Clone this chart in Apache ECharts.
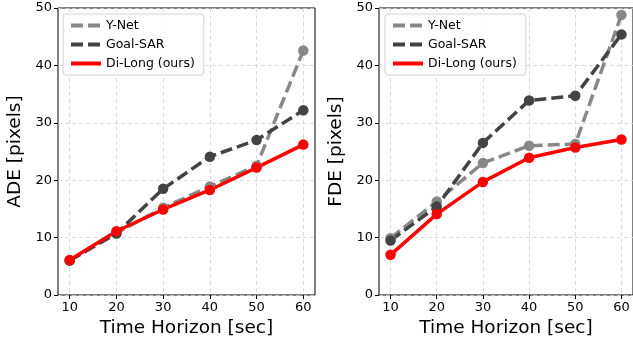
<!DOCTYPE html>
<html><head><meta charset="utf-8">
<script src="https://cdn.jsdelivr.net/npm/echarts@6/dist/echarts.min.js"></script>
<style>html,body{margin:0;padding:0;background:#fff}#c{width:633px;height:343px}</style>
</head><body><div id="c"></div>
<script>
const horizons = [10, 20, 30, 40, 50, 60];
const adeYNet = [6.0, 10.8, 15.2, 18.9, 22.5, 42.6];
const adeGoalSAR = [6.0, 10.7, 18.5, 24.1, 27.0, 32.2];
const adeDiLong = [6.1, 11.1, 14.9, 18.3, 22.2, 26.2];
const fdeYNet = [9.9, 16.3, 23.0, 26.0, 26.3, 48.8];
const fdeGoalSAR = [9.5, 15.4, 26.5, 33.9, 34.7, 45.4];
const fdeDiLong = [7.0, 14.1, 19.7, 23.9, 25.7, 27.1];
const yTicks = [0, 10, 20, 30, 40, 50];
const names = ['Y-Net', 'Goal-SAR', 'Di-Long (ours)'];

const FONT = 'DejaVu Sans';
const styles = {
  'Y-Net': {color: '#878787', type: [12, 5]},
  'Goal-SAR': {color: '#434343', type: [12, 5]},
  'Di-Long (ours)': {color: '#ff0000', type: 'solid'}
};
function pts(vals) { return horizons.map((h, i) => [h, vals[i]]); }
function mkSeries(name, vals, idx) {
  const s = styles[name];
  return {
    name: name, type: 'line', xAxisIndex: idx, yAxisIndex: idx,
    data: pts(vals), symbol: 'circle', symbolSize: 10.5, showSymbol: true,
    lineStyle: {color: s.color, width: 3.5, type: s.type},
    itemStyle: {color: s.color},
    emphasis: {disabled: true}, animation: false
  };
}
function xAx(idx) {
  return {
    type: 'value', gridIndex: idx, min: 7.5, max: 62.5,
    name: 'Time Horizon [sec]', nameLocation: 'middle', nameGap: 24,
    nameTextStyle: {fontFamily: FONT, fontSize: 18.5, color: '#000'},
    axisLine: {show: false},
    axisTick: {show: true, length: 4, customValues: horizons, lineStyle: {color: '#000'}},
    axisLabel: {customValues: horizons, fontFamily: FONT, fontSize: 13, color: '#000', margin: 6},
    splitLine: {show: true, lineStyle: {color: '#d0d0d0', type: [4, 3], width: 0.8}}
  };
}
function yAx(idx, label) {
  return {
    type: 'value', gridIndex: idx, min: 0, max: 50, interval: 10,
    name: label, nameLocation: 'middle', nameGap: 33,
    nameTextStyle: {fontFamily: FONT, fontSize: 18.5, color: '#000'},
    axisLine: {show: false},
    axisTick: {show: true, length: 4, lineStyle: {color: '#000'}},
    axisLabel: {fontFamily: FONT, fontSize: 13, color: '#000', margin: 6},
    splitLine: {show: true, lineStyle: {color: '#d0d0d0', type: [4, 3], width: 0.8}}
  };
}
function legend(left) {
  return {
    left: left, top: 14, orient: 'vertical', data: names,
    itemWidth: 30, itemHeight: 14, itemGap: 6,
    padding: [5, 9, 5, 6],
    backgroundColor: 'rgba(255,255,255,0.85)', borderColor: '#d0d0d0', borderWidth: 1, borderRadius: 3,
    textStyle: {fontFamily: FONT, fontSize: 12.5, color: '#000'},
    itemStyle: {opacity: 0},
    lineStyle: {width: 4},
    selectedMode: false
  };
}
const chart = echarts.init(document.getElementById('c'), null, {renderer: 'canvas'});
chart.setOption({
  animation: false,
  backgroundColor: '#fff',
  grid: [
    {left: 58, top: 8, width: 257, height: 287, show: true, borderColor: '#000', borderWidth: 1, backgroundColor: 'transparent', containLabel: false},
    {left: 379, top: 8, width: 257, height: 287, show: true, borderColor: '#000', borderWidth: 1, backgroundColor: 'transparent', containLabel: false}
  ],
  legend: [legend(63), legend(385)],
  xAxis: [xAx(0), xAx(1)],
  yAxis: [yAx(0, 'ADE [pixels]'), yAx(1, 'FDE [pixels]')],
  series: [
    mkSeries('Y-Net', adeYNet, 0), mkSeries('Goal-SAR', adeGoalSAR, 0), mkSeries('Di-Long (ours)', adeDiLong, 0),
    mkSeries('Y-Net', fdeYNet, 1), mkSeries('Goal-SAR', fdeGoalSAR, 1), mkSeries('Di-Long (ours)', fdeDiLong, 1)
  ]
});
</script></body></html>
